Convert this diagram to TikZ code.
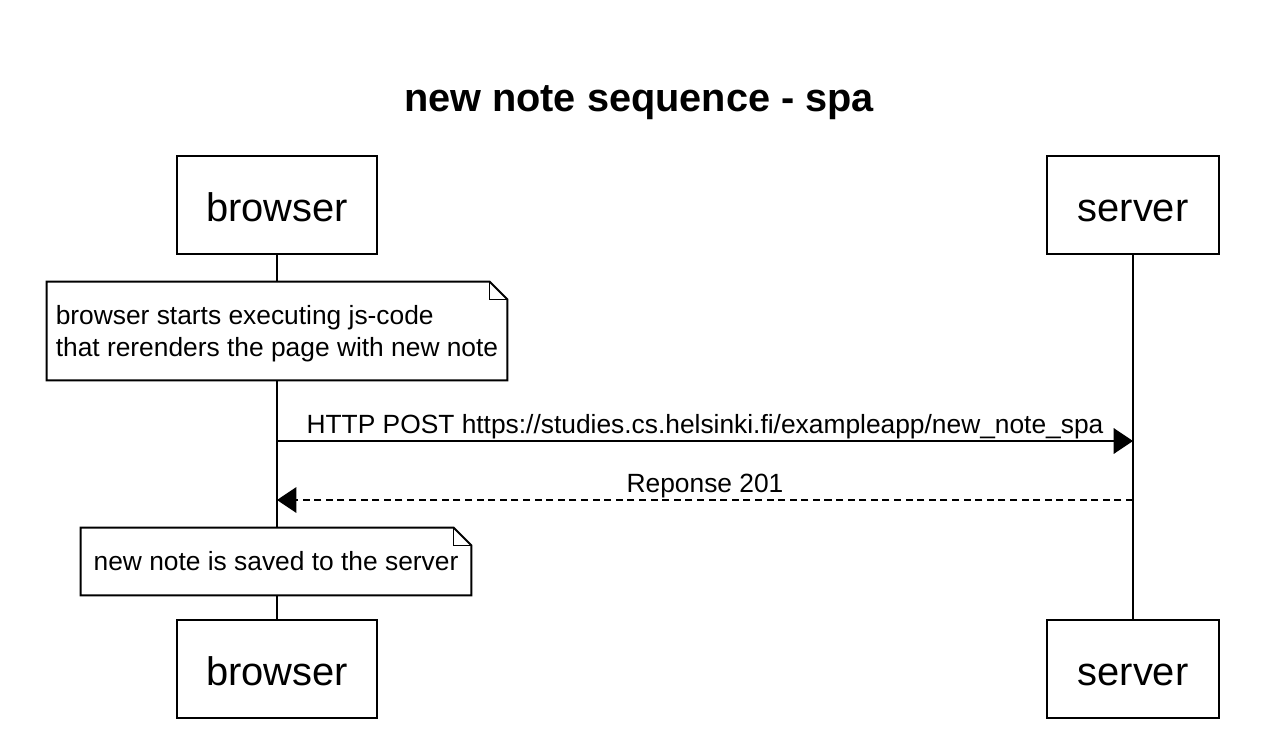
\documentclass[tikz,border=0pt]{standalone}
\usepackage{fontspec}
\setmainfont{Liberation Sans}
\usepackage{tikz}
\usetikzlibrary{arrows.meta,positioning}

\newcommand{\notefold}[1]{%
  \draw[line width=1.1pt] (#1.north west) -- ([xshift=-10pt]#1.north east) -- ([yshift=-10pt]#1.north east) -- (#1.south east) -- (#1.south west) -- cycle;
  \draw[line width=0.8pt] ([xshift=-10pt]#1.north east) -- ([xshift=-10pt,yshift=-10pt]#1.north east) -- ([yshift=-10pt]#1.north east);}

\begin{document}
\begin{tikzpicture}[x=0.02cm, y=-0.02cm,
  actor/.style={draw, line width=1.1pt, fill=white, minimum height=1.96cm, text height=19pt, text depth=0pt, font=\fontsize{22.7}{26}\selectfont},
  notebox/.style={fill=white, inner sep=0pt, font=\fontsize{15}{18.7}\selectfont},
  msg/.style={line width=1.1pt, -{Triangle[length=11pt, width=14.5pt]}},
  msglabel/.style={above, inner sep=0.8pt, font=\fontsize{15}{18}\selectfont}]
\useasboundingbox (0,0) rectangle (1272,740);

\node[font=\bfseries\fontsize{22.6}{26}\selectfont] (title) at (639,97) [yshift=-3pt] {new note sequence - spa};

%============ actors
\node[actor, minimum width=4cm] (browsertop) at (277,205) {browser};
\node[actor, minimum width=3.44cm] (servertop) at (1133,205) {server};
\node[actor, minimum width=4cm] (browserbot) at (277,669) {browser};
\node[actor, minimum width=3.44cm] (serverbot) at (1133,669) {server};

\draw[line width=1.1pt] (browsertop) -- (browserbot);
\draw[line width=1.1pt] (servertop) -- (serverbot);

%============ notes
\node[notebox, minimum width=9.2cm, minimum height=1.96cm, text depth=0pt, align=left] (runjs) at (277,331) {browser starts executing js-code\\that rerenders the page with new note};
\notefold{runjs}
\node[notebox, minimum width=7.8cm, minimum height=1.34cm, align=center] (saved) at (276,561.5) {new note is saved to the server};
\notefold{saved}

%============ messages
\coordinate (postfrom) at (277,441);
\coordinate (postto) at (1133,441);
\coordinate (respfrom) at (1133,500);
\coordinate (respto) at (277,500);

\draw[msg] (postfrom) -- node[msglabel] {HTTP POST https://studies.cs.helsinki.fi/exampleapp/new\_note\_spa} (postto);
\draw[msg, dash pattern=on 4pt off 2.6pt] (respfrom) -- node[msglabel] {Reponse 201} (respto);

\end{tikzpicture}
\end{document}
